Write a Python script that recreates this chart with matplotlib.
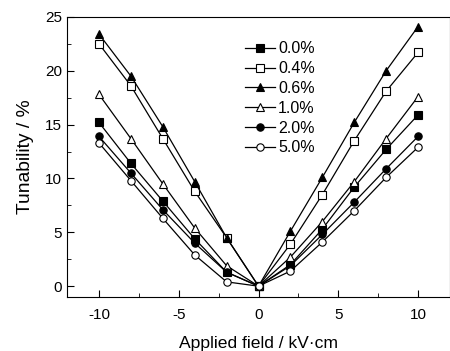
import matplotlib
matplotlib.use('Agg')
from matplotlib import pyplot as plt
from matplotlib.ticker import MultipleLocator

plt.rcParams['font.family'] = ['Liberation Sans', 'DejaVu Sans']
plt.rcParams['axes.unicode_minus'] = False

field = [-10, -8, -6, -4, -2, 0, 2, 4, 6, 8, 10]

# tunability (%) for each doping level
t_00 = [15.2, 11.4, 7.9, 4.4, 1.3, 0, 2.0, 5.3, 9.2, 12.7, 15.9]
t_04 = [22.5, 18.6, 13.7, 8.8, 4.5, 0, 3.9, 8.5, 13.5, 18.1, 21.7]
t_06 = [23.4, 19.5, 14.8, 9.7, 4.5, 0, 5.1, 10.1, 15.2, 20.0, 24.1]
t_10 = [17.8, 13.7, 9.5, 5.4, 1.9, 0, 2.7, 6.0, 9.7, 13.7, 17.6]
t_20 = [13.9, 10.5, 7.1, 4.0, 1.3, 0, 1.9, 4.8, 7.8, 10.9, 13.9]
t_50 = [13.3, 9.8, 6.3, 2.9, 0.4, 0, 1.4, 4.1, 7.0, 10.1, 12.9]

labels = ['0.0%', '0.4%', '0.6%', '1.0%', '2.0%', '5.0%']
series = [t_00, t_04, t_06, t_10, t_20, t_50]
markers = ['s', 's', '^', '^', 'o', 'o']
fills = ['black', 'white', 'black', 'white', 'black', 'white']

fig = plt.figure(figsize=(4.5, 3.51), dpi=100)
ax = fig.add_axes([0.149, 0.154, 0.851, 0.798])

for y, lab, m, fc in zip(series, labels, markers, fills):
    ax.plot(field, y, color='black', lw=0.9, marker=m, ms=5.3,
            mfc=fc, mec='black', mew=0.8, label=lab)

ax.set_xlim(-12, 12)
ax.set_ylim(-1, 25)
ax.xaxis.set_major_locator(MultipleLocator(5))
ax.xaxis.set_minor_locator(MultipleLocator(2.5))
ax.yaxis.set_major_locator(MultipleLocator(5))
ax.yaxis.set_minor_locator(MultipleLocator(2.5))
ax.tick_params(which='both', direction='in', labelsize=11)
ax.tick_params(which='major', length=5)
ax.tick_params(which='minor', length=3)
ax.tick_params(axis='x', pad=8)

ax.set_xlabel('Applied field / kV·cm', fontsize=12.6, labelpad=10)
ax.set_ylabel('Tunability / %', fontsize=13.9, labelpad=8)

ax.legend(loc='upper left', bbox_to_anchor=(0.447, 0.935), frameon=False,
          fontsize=11.5, handlelength=1.9, handletextpad=0.2,
          labelspacing=0.3, borderaxespad=0)

fig.savefig('out.png', dpi=100)
